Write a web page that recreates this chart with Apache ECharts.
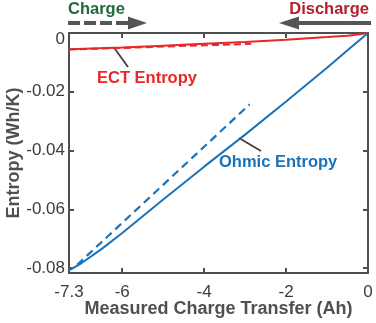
<!DOCTYPE html>
<html>
<head>
<meta charset="utf-8">
<script src="https://cdn.jsdelivr.net/npm/echarts@6/dist/echarts.min.js"></script>
<style>
  html, body { margin: 0; padding: 0; background: #fff; }
  #chart { width: 376px; height: 323px; }
</style>
</head>
<body>
<div id="chart"></div>
<script>
// tick labels
const xLabels = [-7.3, -6, -4, -2, 0]
const xTicks = [-6, -4, -2]
const yLabels = [0, -0.02, -0.04, -0.06, -0.08]
const yTicks = [-0.02, -0.04, -0.06, -0.08]

// ECT entropy, solid (discharge) and dashed (charge)
const ectSolid = [
  [-7.3, -0.0055], [-6, -0.0049], [-5, -0.0043], [-4, -0.0037], [-3, -0.0031],
  [-2, -0.0023], [-1, -0.0014], [-0.5, -0.0009], [-0.2, -0.0004], [0, 0]
]
const ectDashed = [[-7.3, -0.0056], [-6, -0.0051], [-5, -0.0046], [-4, -0.0042], [-2.85, -0.0037]]

// Ohmic entropy
const ohmicSolid = [
  [-7.3, -0.0808], [-7, -0.0784], [-6.5, -0.0735], [-6, -0.0681], [-5, -0.0567],
  [-4, -0.0455], [-3, -0.0346], [-2, -0.0233], [-1, -0.0118], [-0.5, -0.0059], [0, 0]
]
const ohmicDashed = [[-7.1, -0.0789], [-2.89, -0.0243]]

const FONT = 'Liberation Sans'
const AXIS_COLOR = '#4f4f4f'
const RED = '#e8262b'
const BLUE = '#1a72b8'

const chart = echarts.init(document.getElementById('chart'), null, { renderer: 'canvas' })

const boxAxis = {
  axisLine: { show: true, onZero: false, lineStyle: { color: AXIS_COLOR, width: 2 } },
  axisTick: { show: true, inside: true, length: 5, lineStyle: { color: AXIS_COLOR, width: 2 } },
  splitLine: { show: false }
}

chart.setOption({
  animation: false,
  grid: { left: 69, right: 8, top: 33, bottom: 50, outerBoundsMode: 'none', containLabel: false },
  xAxis: [
    {
      type: 'value', min: -7.3, max: 0, position: 'bottom',
      ...boxAxis,
      axisTick: { ...boxAxis.axisTick, customValues: xTicks },
      axisLabel: {
        customValues: xLabels, color: '#3c3c3c', fontFamily: FONT, fontSize: 17, margin: 11,
        formatter: (v) => String(v)
      },
      name: 'Measured Charge Transfer (Ah)', nameLocation: 'middle', nameGap: 27, nameMoveOverlap: false,
      nameTextStyle: { color: '#505050', fontFamily: FONT, fontSize: 18, fontWeight: 'bold' }
    },
    {
      type: 'value', min: -7.3, max: 0, position: 'top',
      ...boxAxis,
      axisTick: { ...boxAxis.axisTick, customValues: xTicks },
      axisLabel: { show: false }
    }
  ],
  yAxis: [
    {
      type: 'value', min: -0.0817, max: 0, position: 'left',
      ...boxAxis,
      axisTick: { ...boxAxis.axisTick, customValues: yTicks },
      axisLabel: {
        customValues: yLabels, color: '#3c3c3c', fontFamily: FONT, fontSize: 17, margin: 4,
        formatter: (v) => v === 0 ? '{z|0}' : v.toFixed(2),
        rich: { z: { fontFamily: FONT, fontSize: 17, color: '#3c3c3c', padding: [12, 0, 0, 0] } }
      },
      name: 'Entropy (Wh/K)', nameLocation: 'middle', nameGap: 46, nameMoveOverlap: false,
      nameTextStyle: { color: '#505050', fontFamily: FONT, fontSize: 18, fontWeight: 'bold' }
    },
    {
      type: 'value', min: -0.0817, max: 0, position: 'right',
      ...boxAxis,
      axisTick: { ...boxAxis.axisTick, customValues: yTicks },
      axisLabel: { show: false }
    }
  ],
  series: [
    {
      type: 'line', data: ectDashed, showSymbol: false, silent: true,
      lineStyle: { color: RED, width: 2, type: [7, 4] }
    },
    {
      type: 'line', data: ectSolid, showSymbol: false, silent: true,
      lineStyle: { color: RED, width: 2 }
    },
    {
      type: 'line', data: ohmicDashed, showSymbol: false, silent: true,
      lineStyle: { color: BLUE, width: 2.2, type: [8, 5] }
    },
    {
      type: 'line', data: ohmicSolid, showSymbol: false, silent: true,
      lineStyle: { color: BLUE, width: 2 }
    }
  ],
  graphic: [
    // direction arrows above the plot
    {
      type: 'text', left: 68, top: 1,
      style: { text: 'Charge', fill: '#1d6b3b', font: 'bold 16.5px ' + FONT }
    },
    {
      type: 'text', right: 7, top: 1,
      style: { text: 'Discharge', fill: '#b3202e', font: 'bold 16.5px ' + FONT }
    },
    {
      type: 'line', shape: { x1: 68, y1: 23, x2: 132, y2: 23 },
      style: { stroke: '#555', lineWidth: 4, lineDash: [12, 4] }
    },
    {
      type: 'polygon', shape: { points: [[128, 16.5], [147, 23], [128, 29.5]] },
      style: { fill: '#555' }
    },
    {
      type: 'line', shape: { x1: 296, y1: 23, x2: 371, y2: 23 },
      style: { stroke: '#555', lineWidth: 4 }
    },
    {
      type: 'polygon', shape: { points: [[299, 16.5], [279, 23], [299, 29.5]] },
      style: { fill: '#555' }
    },
    // callouts
    {
      type: 'line', shape: { x1: 115, y1: 49, x2: 128, y2: 67 },
      style: { stroke: '#404040', lineWidth: 1.8 }
    },
    {
      type: 'text', left: 97, top: 70,
      style: { text: 'ECT Entropy', fill: RED, font: 'bold 16.5px ' + FONT }
    },
    {
      type: 'line', shape: { x1: 239, y1: 138, x2: 261, y2: 151 },
      style: { stroke: '#404040', lineWidth: 1.8 }
    },
    {
      type: 'text', left: 219, top: 154,
      style: { text: 'Ohmic Entropy', fill: BLUE, font: 'bold 16.5px ' + FONT }
    }
  ]
})
</script>
</body>
</html>
